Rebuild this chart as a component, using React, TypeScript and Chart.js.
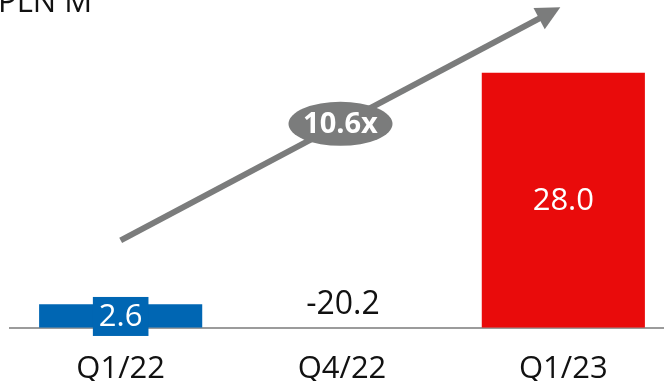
import React, { useEffect, useRef } from "react";
import { Chart, registerables } from "chart.js";

Chart.register(...registerables);

const categories = ["Q1/22", "Q4/22", "Q1/23"];
const values = [2.6, -20.2, 28.0];
const valueLabels = ["2.6", "-20.2", "28.0"];
const barColors = ["#0066B3", "rgba(0,0,0,0)", "#E90B0B"];
const unitLabel = "PLN M";
const growthLabel = "10.6x";
// arrow endpoints in data coordinates: [categoryIndex, value]
const arrowStart = [0, 9.6];
const arrowEnd = [2, 35.2];

const FONT = "'Open Sans', 'Noto Sans', sans-serif";
const GRAY = "#7B7C7C";

const overlayPlugin = {
  id: "overlay",
  afterDatasetsDraw(chart: any) {
    const ctx = chart.ctx;
    const xs = chart.scales.x;
    const ys = chart.scales.y;
    const meta = chart.getDatasetMeta(0);
    ctx.save();
    // value labels
    meta.data.forEach((bar: any, i: number) => {
      const v = values[i];
      const text = valueLabels[i];
      const x = bar.x;
      ctx.textAlign = "center";
      ctx.textBaseline = "middle";
      if (v < 0) {
        ctx.font = `400 32px ${FONT}`;
        ctx.fillStyle = "#111";
        ctx.fillText(text, x + 1, ys.getPixelForValue(0) - 23);
        return;
      }
      const yMid = (ys.getPixelForValue(v) + ys.getPixelForValue(0)) / 2;
      ctx.font = `400 31px ${FONT}`;
      const w = ctx.measureText(text).width;
      if (i === 0) {
        ctx.fillStyle = barColors[i];
        ctx.fillRect(x - w / 2 - 6, yMid - 19, w + 12, 39);
      }
      ctx.fillStyle = "#fff";
      ctx.fillText(text, x, yMid + 1);
    });

    // arrow
    const x1 = xs.getPixelForValue(arrowStart[0]);
    const y1 = ys.getPixelForValue(arrowStart[1]);
    const x2 = xs.getPixelForValue(arrowEnd[0]) - 3;
    const y2 = ys.getPixelForValue(arrowEnd[1]);
    const ang = Math.atan2(y2 - y1, x2 - x1);
    const headLen = 24;
    const headW = 12;
    const bx = x2 - headLen * Math.cos(ang);
    const by = y2 - headLen * Math.sin(ang);
    ctx.strokeStyle = GRAY;
    ctx.lineWidth = 6;
    ctx.beginPath();
    ctx.moveTo(x1, y1);
    ctx.lineTo(bx + 2 * Math.cos(ang), by + 2 * Math.sin(ang));
    ctx.stroke();
    ctx.fillStyle = GRAY;
    ctx.beginPath();
    ctx.moveTo(x2, y2);
    ctx.lineTo(bx + headW * Math.sin(ang), by - headW * Math.cos(ang));
    ctx.lineTo(bx - headW * Math.sin(ang), by + headW * Math.cos(ang));
    ctx.closePath();
    ctx.fill();

    // ellipse label
    const mx = (x1 + x2) / 2;
    const my = (y1 + y2) / 2;
    ctx.beginPath();
    ctx.ellipse(mx, my, 52, 22, 0, 0, Math.PI * 2);
    ctx.fill();
    ctx.fillStyle = "#fff";
    ctx.font = `700 29px ${FONT}`;
    ctx.textAlign = "center";
    ctx.textBaseline = "middle";
    ctx.fillText(growthLabel, mx, my + 1);

    // unit label
    ctx.fillStyle = "#111";
    ctx.font = `400 31px ${FONT}`;
    ctx.textAlign = "left";
    ctx.textBaseline = "alphabetic";
    ctx.fillText(unitLabel, -2, 12);
    ctx.restore();
  },
};

export default function App() {
  const ref = useRef<HTMLCanvasElement>(null);
  useEffect(() => {
    if (!ref.current) return;
    const chart = new Chart(ref.current, {
      type: "bar",
      data: {
        labels: categories,
        datasets: [
          {
            data: values,
            backgroundColor: barColors,
            barPercentage: 0.737,
            categoryPercentage: 1,
          },
        ],
      },
      options: {
        animation: false,
        responsive: false,
        layout: { padding: { left: 10, right: 0, top: 0, bottom: 4 } },
        plugins: { legend: { display: false }, tooltip: { enabled: false } },
        scales: {
          x: {
            grid: { display: false, drawTicks: false },
            border: { display: true, color: "#9B9B9B", width: 2 },
            ticks: {
              color: "#111",
              font: { family: FONT, size: 31, weight: "400" },
              padding: 23,
            },
          },
          y: { display: false, min: 0, max: 36 },
        },
      },
      plugins: [overlayPlugin],
    });
    return () => chart.destroy();
  }, []);
  return (
    <div style={{ position: "fixed", left: 0, top: 0, width: 664, height: 381, overflow: "hidden", background: "#fff" }}>
      <canvas ref={ref} width={674} height={415} style={{ display: "block" }} />
    </div>
  );
}
